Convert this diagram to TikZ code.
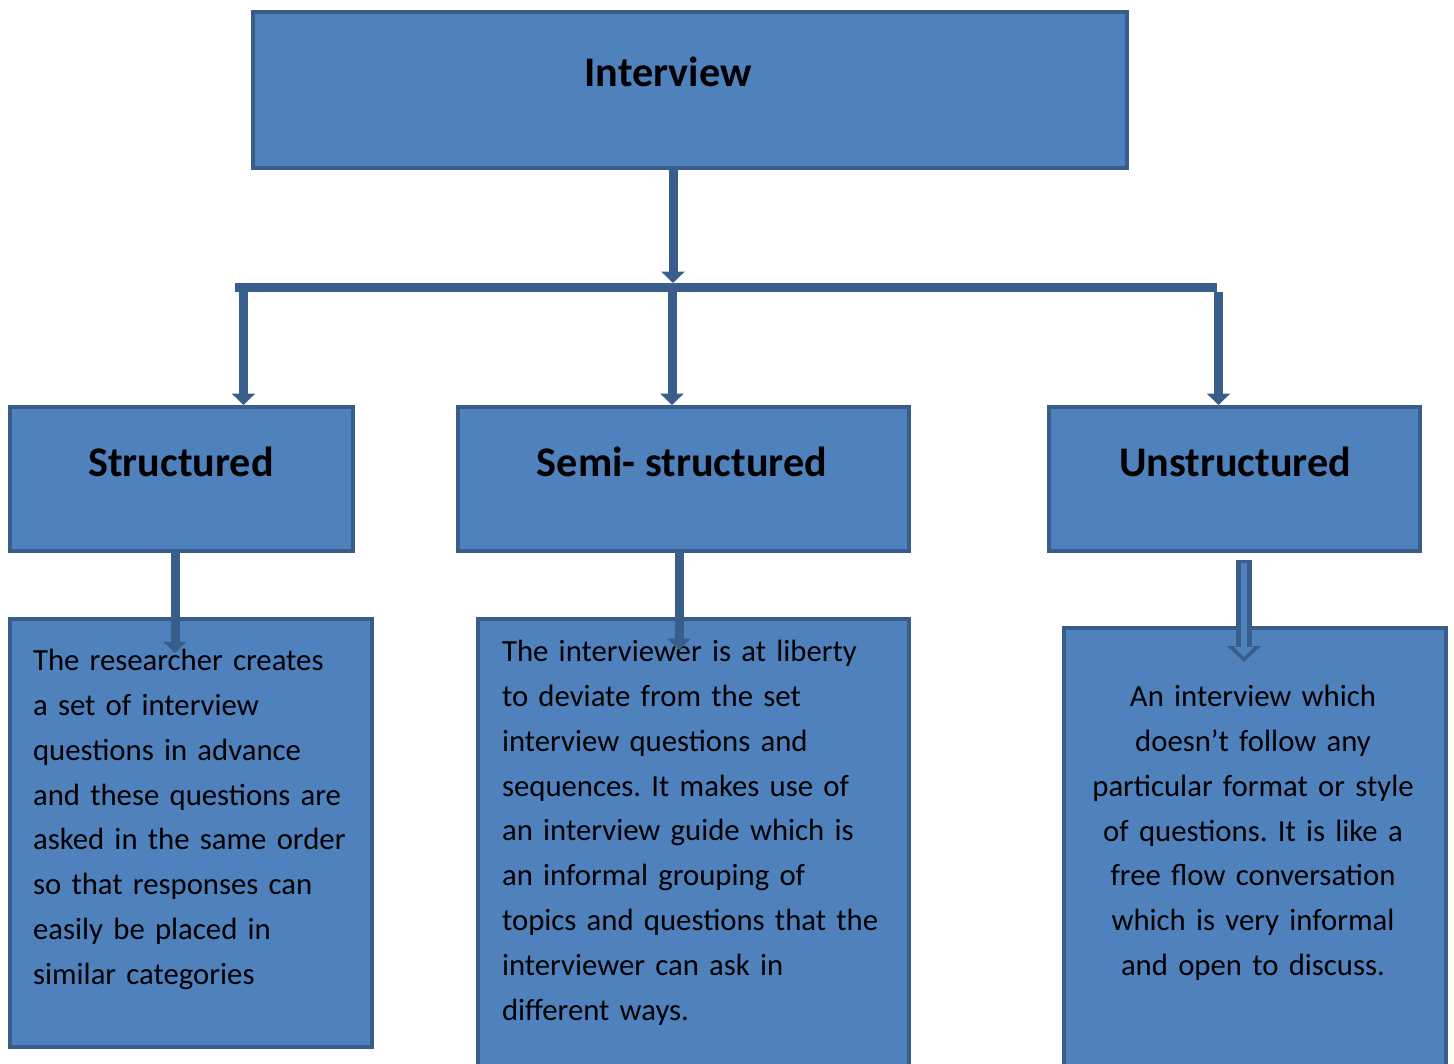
\documentclass[tikz,border=0pt]{standalone}
\usepackage{fontspec}
\setmainfont{Carlito}
\usetikzlibrary{arrows.meta}
\definecolor{boxfill}{RGB}{79,129,189}
\definecolor{boxline}{RGB}{56,93,138}
\definecolor{linkcol}{RGB}{58,94,140}
\frenchspacing

\begin{document}
\begin{tikzpicture}[x=0.02cm,y=-0.02cm, box/.style={draw=boxline,fill=boxfill,line width=0.08cm,inner sep=0pt}, title/.style={font=\bfseries\fontsize{24}{28}\selectfont,inner sep=0pt,anchor=base}, desc/.style={font=\fontsize{17.5}{25.5}\selectfont,inner sep=0pt,text width=7.4cm}, bar/.style={draw=linkcol,line width=0.18cm}, arrow/.style={draw=linkcol,line width=0.18cm,-{Triangle[width=0.46cm,length=0.23cm]}}]
\path[use as bounding box,clip] (0,0) rectangle (1454,1064);
% boxes
\node[box,minimum width=17.5cm,minimum height=3.14cm] (interviewbox) at (690,90) {};
\node[box,minimum width=6.86cm,minimum height=2.88cm] (structbox) at (181.5,479) {};
\node[box,minimum width=9.02cm,minimum height=2.88cm] (semibox) at (683.5,479) {};
\node[box,minimum width=7.42cm,minimum height=2.88cm] (unstructbox) at (1234.5,479) {};
\node[box,minimum width=7.24cm,minimum height=8.56cm] (structdesc) at (191,833) {};
\node[box,minimum width=8.62cm,minimum height=9.8cm] (semidesc) at (693.5,864) {};
\node[box,minimum width=7.64cm,minimum height=9.6cm] (unstructdesc) at (1255,868) {};
% titles
\node[title] (interviewtitle) at (668,87) {Interview};
\node[title] (structtitle) at (181,476) {Structured};
\node[title] (semititle) at (682,476) {Semi- structured};
\node[title] (unstructtitle) at (1235,476) {Unstructured};
% descriptions
\node[desc,align=left,anchor=base west] (structtext) at (32.7,670.7) {The researcher creates\\a set of interview\\questions in advance\\and these questions are\\asked in the same order\\so that responses can\\easily be placed in\\similar categories};
\node[desc,align=left,anchor=base west,text width=8.2cm] (semitext) at (501.7,661.7) {The interviewer is at liberty\\to deviate from the set\\interview questions and\\sequences. It makes use of\\an interview guide which is\\an informal grouping of\\topics and questions that the\\interviewer can ask in\\different ways.};
\node[desc,align=center,anchor=base] (unstructtext) at (1253,706.7) {An interview which\\doesn’t follow any\\particular format or style\\of questions. It is like a\\free flow conversation\\which is very informal\\and open to discuss.};
% connectors
\coordinate (hub) at (673,283);
\coordinate (barL) at (235,287.5);
\coordinate (barR) at (1217,287.5);
\coordinate (dropA) at (243.5,292);
\coordinate (dropB) at (672,292);
\coordinate (dropC) at (1218.5,292);
\coordinate (legA) at (175,653);
\coordinate (legB) at (679,650);
\coordinate (legC) at (1244,662);
\draw[bar] (barL) -- (barR);
\draw[arrow] (interviewbox.south -| hub) -- (hub);
\draw[arrow] (dropA) -- (structbox.north -| dropA);
\draw[arrow] (dropB) -- (semibox.north -| dropB);
\draw[arrow] (dropC) -- (unstructbox.north -| dropC);
\draw[arrow] (structbox.south -| legA) -- (legA);
\draw[arrow] (semibox.south -| legB) -- (legB);
\draw[draw=linkcol,line width=0.32cm,shorten <=0.14cm,-{Triangle[width=0.66cm,length=0.32cm]}] (unstructbox.south -| legC) -- (legC);
\draw[draw=boxfill,line width=0.12cm,shorten <=0.2cm,shorten >=0.1cm,-{Triangle[width=0.38cm,length=0.2cm]}] (unstructbox.south -| legC) -- (legC);
\end{tikzpicture}
\end{document}
